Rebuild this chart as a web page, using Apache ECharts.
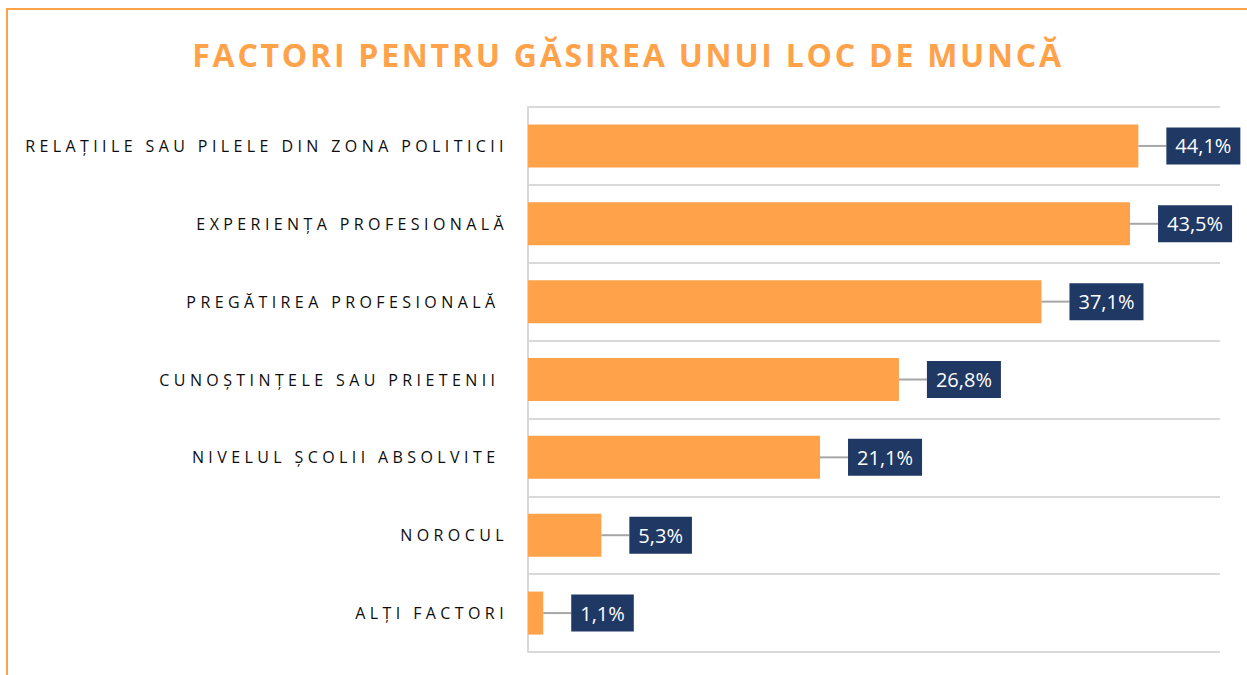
<!DOCTYPE html>
<html>
<head>
<meta charset="utf-8">
<title>Factori pentru găsirea unui loc de muncă</title>
<script src="https://cdn.jsdelivr.net/npm/echarts@6/dist/echarts.min.js"></script>
<style>
    html, body {
        margin: 0;
        padding: 0;
        background: #fff;
    }
    .wrap {
        position: relative;
        width: 1247px;
        height: 675px;
    }
    #chart {
        width: 1247px;
        height: 675px;
    }
    /* cadrul portocaliu (sus si stanga) */
    .frame {
        position: absolute;
        left: 6px;
        top: 8px;
        right: 0;
        bottom: -10px;
        border-top: 2px solid #ffa24a;
        border-left: 2px solid #ffa24a;
        pointer-events: none;
    }
    /* spatierea literelor, ca in original */
    #chart text {
        letter-spacing: 4.4px;
    }
    #chart text[fill="#ffa24a"] {
        letter-spacing: 2.75px;
    }
    #chart text[fill="#ffffff"] {
        letter-spacing: 0;
    }
</style>
</head>
<body>
<div class="wrap">
    <div id="chart"></div>
    <div class="frame"></div>
</div>
<script>
// categorii (de sus in jos)
const categories = [
    'RELAȚIILE SAU PILELE DIN ZONA POLITICII',
    'EXPERIENȚA PROFESIONALĂ',
    'PREGĂTIREA PROFESIONALĂ ',
    'CUNOȘTINȚELE SAU PRIETENII ',
    'NIVELUL ȘCOLII ABSOLVITE ',
    'NOROCUL',
    'ALȚI FACTORI'
];
// procente
const values = [44.1, 43.5, 37.1, 26.8, 21.1, 5.3, 1.1];
const axisMax = 50;
const titleText = 'FACTORI PENTRU GĂSIREA UNUI LOC DE MUNCĂ';

const orange = '#ffa24a';
const navy = '#1f3864';
const gridColor = '#d9d9d9';

// 44.1 -> "44,1%"
function fmt(v) {
    return v.toFixed(1).replace('.', ',') + '%';
}

const chart = echarts.init(document.getElementById('chart'), null, {
    renderer: 'svg'
});

const option = {
    backgroundColor: 'transparent',
    animation: false,
    graphic: [
        {
            type: 'text',
            x: 628,
            y: 54,
            style: {
                text: titleText,
                fill: orange,
                font: 'bold 32px "Open Sans"',
                textAlign: 'center',
                textVerticalAlign: 'middle'
            }
        }
    ],
    grid: {
        left: 528,
        right: 27,
        top: 107,
        bottom: 23,
        outerBoundsMode: 'none',
        containLabel: false
    },
    xAxis: {
        type: 'value',
        min: 0,
        max: axisMax,
        show: false
    },
    yAxis: {
        type: 'category',
        data: categories,
        inverse: true,
        axisTick: { show: false },
        axisLine: {
            show: true,
            lineStyle: { color: gridColor, width: 2 }
        },
        splitLine: {
            show: true,
            lineStyle: { color: gridColor, width: 2 }
        },
        axisLabel: {
            margin: 20,
            color: '#0d0d0d',
            fontSize: 16,
            fontFamily: 'Open Sans'
        }
    },
    series: [
        {
            type: 'bar',
            data: values,
            barWidth: 43,
            itemStyle: { color: orange },
            label: {
                show: true,
                position: 'right',
                distance: 0,
                fontFamily: 'Open Sans',
                formatter: (p) => '{l| }{v|' + fmt(p.value) + '}',
                rich: {
                    // linia de legatura gri
                    l: {
                        width: 28,
                        height: 2,
                        color: 'transparent',
                        backgroundColor: '#a6a6a6'
                    },
                    // caseta cu valoarea
                    v: {
                        color: '#ffffff',
                        fontSize: 20,
                        fontFamily: 'Open Sans',
                        height: 37,
                        padding: [0, 9],
                        backgroundColor: navy
                    }
                }
            }
        }
    ]
};

chart.setOption(option);
</script>
</body>
</html>
